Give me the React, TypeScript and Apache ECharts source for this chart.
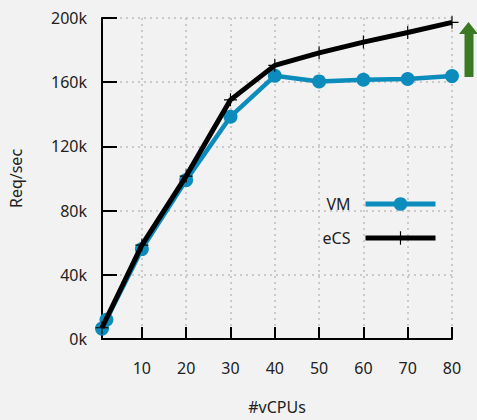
import React, { useEffect, useRef } from "react";
import * as echarts from "echarts";

const vmX = [1, 2, 10, 20, 30, 40, 50, 60, 70, 80];
const vmY = [6500, 12000, 56000, 99000, 138500, 164000, 160500, 161500, 162000, 163800];
const ecsX = [1, 10, 20, 30, 40, 50, 60, 70, 80];
const ecsY = [7000, 58500, 101500, 149000, 170500, 178300, 185000, 191000, 197300];
const xTicks = [10, 20, 30, 40, 50, 60, 70, 80];
const seriesNames = ["VM", "eCS"];

const FONT = "Noto Sans";
const PLUS = "path://M-0.6,-7L0.6,-7L0.6,-0.6L7,-0.6L7,0.6L0.6,0.6L0.6,7L-0.6,7L-0.6,0.6L-7,0.6L-7,-0.6L-0.6,-0.6Z";

export default function App() {
  const ref = useRef<HTMLDivElement>(null);
  useEffect(() => {
    if (!ref.current) return;
    const chart = echarts.init(ref.current, undefined, { renderer: "svg" });
    const vmData = vmX.map((x, i) => [x, vmY[i]]);
    const ecsData = ecsX.map((x, i) => [x, ecsY[i]]);
    chart.setOption({
      animation: false,
      backgroundColor: "#f2f2f2",
      textStyle: { fontFamily: FONT },
      grid: { left: 102, right: 25, top: 18, bottom: 79, containLabel: false },
      legend: {
        orient: "vertical",
        right: 39,
        top: 196,
        padding: 0,
        itemWidth: 70,
        itemHeight: 17,
        itemGap: 18,
        align: "right",
        selectedMode: false,
        lineStyle: { width: 5 },
        textStyle: { fontSize: 16, color: "#222", fontFamily: FONT, padding: [0, 10, 0, 0] },
        data: seriesNames,
      },
      xAxis: {
        type: "value",
        min: 1,
        max: 80,
        name: "#vCPUs",
        nameLocation: "middle",
        nameGap: 60,
        nameTextStyle: { fontSize: 16, color: "#222", fontFamily: FONT },
        axisLine: { lineStyle: { color: "#000", width: 2 } },
        axisTick: { inside: true, length: 12, lineStyle: { color: "#000", width: 2 }, customValues: xTicks },
        axisLabel: { fontSize: 16, color: "#222", margin: 21, customValues: xTicks, fontFamily: FONT },
        splitLine: { show: true, lineStyle: { color: "#bdbdbd", type: [2, 4], width: 1.5 } },
      },
      yAxis: {
        type: "value",
        min: 0,
        max: 200000,
        interval: 40000,
        name: "Req/sec",
        nameLocation: "middle",
        nameGap: 78,
        nameTextStyle: { fontSize: 16, color: "#222", fontFamily: FONT },
        axisLine: { show: true, lineStyle: { color: "#000", width: 2 } },
        axisTick: { show: true, inside: true, length: 15, lineStyle: { color: "#000", width: 2 } },
        axisLabel: {
          fontSize: 16,
          color: "#222",
          margin: 15,
          fontFamily: FONT,
          formatter: (v: number) => `${Math.round(v / 1000)}k`,
        },
        splitLine: { show: true, lineStyle: { color: "#bdbdbd", type: [2, 4], width: 1.5 } },
      },
      series: [
        {
          name: seriesNames[0],
          type: "line",
          data: vmData,
          symbol: "circle",
          symbolSize: 14,
          lineStyle: { color: "#0b8cbc", width: 4.5 },
          itemStyle: { color: "#0b8cbc" },
          z: 2,
        },
        {
          name: seriesNames[1],
          type: "line",
          data: ecsData,
          symbol: PLUS,
          symbolSize: 13,
          lineStyle: { color: "#000", width: 5 },
          itemStyle: { color: "#000" },
          z: 3,
        },
      ],
      graphic: [
        {
          type: "polygon",
          shape: {
            points: [
              [468.5, 22],
              [459, 34],
              [464.5, 34],
              [464.5, 77],
              [473.5, 77],
              [473.5, 34],
              [478, 34],
            ],
          },
          style: { fill: "#3a7a23" },
        },
      ],
    });
    return () => chart.dispose();
  }, []);
  return (
    <div
      ref={ref}
      style={{ position: "fixed", left: 0, top: 0, width: 477, height: 420, background: "#f2f2f2" }}
    />
  );
}
